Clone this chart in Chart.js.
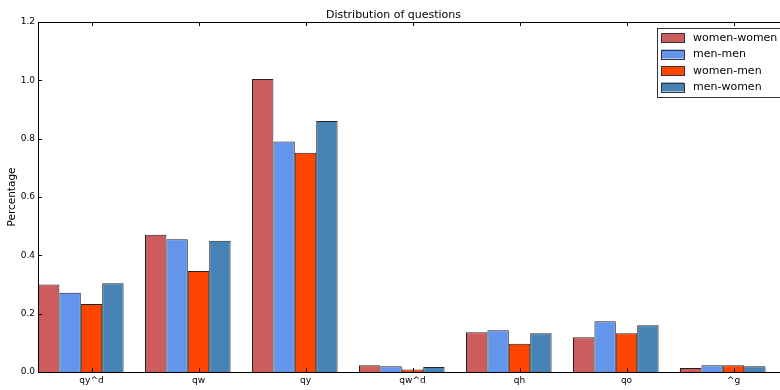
<!DOCTYPE html>
<html>
<head>
<meta charset="utf-8">
<script src="https://cdn.jsdelivr.net/npm/chart.js@4/dist/chart.umd.min.js"></script>
<style>
  html, body { margin: 0; padding: 0; background: #fff; overflow: hidden; }
  #wrap { width: 800px; height: 390px; }
</style>
</head>
<body>
<div id="wrap"><canvas id="chart" width="800" height="390"></canvas></div>
<script>
const categories = ['qy^d', 'qw', 'qy', 'qw^d', 'qh', 'qo', '^g']
const womenWomen = [0.300, 0.471, 1.005, 0.023, 0.136, 0.119, 0.014]
const menMen     = [0.272, 0.455, 0.790, 0.020, 0.143, 0.174, 0.023]
const womenMen   = [0.233, 0.346, 0.752, 0.009, 0.097, 0.133, 0.023]
const menWomen   = [0.304, 0.450, 0.861, 0.017, 0.133, 0.160, 0.020]
const yTicks     = [0.0, 0.2, 0.4, 0.6, 0.8, 1.0, 1.2]

const series = [
  { label: 'women-women', values: womenWomen, color: '#CD5C5C' },
  { label: 'men-men', values: menMen, color: '#6495ED' },
  { label: 'women-men', values: womenMen, color: '#FF4500' },
  { label: 'men-women', values: menWomen, color: '#4682B4' }
]

const font = 'DejaVu Sans'

// matplotlib-style frame with inward ticks
const frame = {
  id: 'frame',
  afterDatasetsDraw (chart) {
    const { ctx, chartArea: a, scales } = chart
    ctx.save()
    ctx.strokeStyle = '#000'
    ctx.lineWidth = 1
    ctx.strokeRect(Math.round(a.left) + 0.5, Math.round(a.top) + 0.5,
      Math.round(a.right - a.left), Math.round(a.bottom - a.top))
    ctx.beginPath()
    scales.y.ticks.forEach(t => {
      const y = Math.round(scales.y.getPixelForValue(t.value)) + 0.5
      ctx.moveTo(a.left, y); ctx.lineTo(a.left + 4, y)
      ctx.moveTo(a.right, y); ctx.lineTo(a.right - 4, y)
    })
    scales.x.ticks.forEach(t => {
      const x = Math.round(scales.x.getPixelForValue(t.value)) + 0.5
      ctx.moveTo(x, a.bottom); ctx.lineTo(x, a.bottom - 4)
      ctx.moveTo(x, a.top); ctx.lineTo(x, a.top + 4)
    })
    ctx.stroke()
    ctx.restore()
  }
}

// legend box in the upper right of the axes
const boxLegend = {
  id: 'boxLegend',
  afterDraw (chart) {
    const { ctx } = chart
    const x0 = 657, y0 = 28, w = 140, h = 69
    ctx.save()
    ctx.fillStyle = '#fff'
    ctx.fillRect(x0, y0, w, h)
    ctx.strokeStyle = '#333'
    ctx.lineWidth = 1
    ctx.strokeRect(x0 + 0.5, y0 + 0.5, w, h)
    ctx.font = '11px "' + font + '"'
    ctx.textBaseline = 'middle'
    chart.data.datasets.forEach((ds, i) => {
      const cy = y0 + 9.5 + i * 16.5
      ctx.fillStyle = ds.backgroundColor
      ctx.fillRect(x0 + 4, cy - 4.5, 23, 9)
      ctx.strokeStyle = '#333'
      ctx.strokeRect(x0 + 4.5, Math.round(cy - 4.5) + 0.5, 23, 9)
      ctx.fillStyle = '#000'
      ctx.fillText(ds.label, x0 + 36, cy + 0.5)
    })
    ctx.restore()
  }
}

new Chart(document.getElementById('chart'), {
  type: 'bar',
  data: {
    datasets: series.map(s => ({
      label: s.label,
      data: s.values.map((v, i) => ({ x: i + 0.4, y: v })),
      backgroundColor: s.color,
      borderColor: '#222',
      borderWidth: 1,
      borderSkipped: 'start'
    }))
  },
  options: {
    responsive: false,
    animation: false,
    layout: { padding: { left: 0, right: 13, top: 0, bottom: 0 } },
    datasets: { bar: { categoryPercentage: 0.8, barPercentage: 1.0 } },
    plugins: {
      legend: { display: false },
      tooltip: { enabled: false },
      title: {
        display: true,
        text: 'Distribution of questions',
        color: '#000',
        font: { family: font, size: 11, weight: 'normal' },
        padding: { top: 8.4, bottom: 0.4 }
      }
    },
    scales: {
      x: {
        type: 'linear',
        min: 0,
        max: categories.length,
        offset: false,
        grid: { display: false, drawTicks: false },
        border: { display: false },
        afterBuildTicks: axis => {
          axis.ticks = categories.map((c, i) => ({ value: i + 0.5 }))
        },
        afterFit: axis => { axis.height = 18 },
        ticks: {
          color: '#000',
          padding: 3,
          maxRotation: 0,
          autoSkip: false,
          font: { family: font, size: 9 },
          callback: v => categories[Math.floor(v)]
        }
      },
      y: {
        min: 0,
        max: 1.2,
        grid: { display: false, drawTicks: false },
        border: { display: false },
        afterBuildTicks: axis => {
          axis.ticks = yTicks.map(v => ({ value: v }))
        },
        afterFit: axis => { axis.width = 38 },
        ticks: {
          color: '#000',
          padding: 3,
          font: { family: font, size: 9 },
          callback: v => v.toFixed(1)
        },
        title: {
          display: true,
          text: 'Percentage',
          color: '#000',
          font: { family: font, size: 10.5 },
          padding: { top: 6, bottom: 0 }
        }
      }
    }
  },
  plugins: [frame, boxLegend]
})
</script>
</body>
</html>
